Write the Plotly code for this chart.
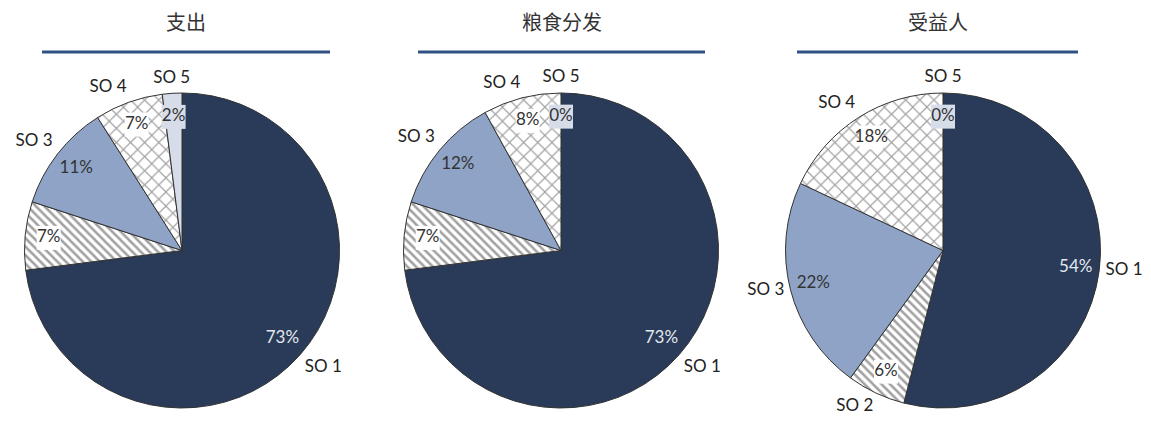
import numpy as np
import plotly.graph_objects as go

categories = ["SO 1", "SO 2", "SO 3", "SO 4", "SO 5"]
titles = ["支出", "粮食分发", "受益人"]
spend = [73, 7, 11, 7, 2]
food = [73, 7, 12, 8, 0]
beneficiaries = [54, 6, 22, 18, 0]
series = [spend, food, beneficiaries]
# category labels shown next to each pie (SO 2 not labelled on the first two)
shown_labels = [
    ["SO 1", "", "SO 3", "SO 4", "SO 5"],
    ["SO 1", "", "SO 3", "SO 4", "SO 5"],
    ["SO 1", "SO 2", "SO 3", "SO 4", "SO 5"],
]

colors = ["#293b58", "white", "#8ea3c6", "white", "#d6dde9"]
shapes_pat = ["", "\\", "", "x", ""]
pat_size = [8, 6, 8, 10, 8]
pat_solid = [0.3, 0.42, 0.3, 0.22, 0.3]
text_colors = ["#e4e8ee", "#333333", "#333333", "#333333", "#333333"]
box_colors = ["rgba(0,0,0,0)", "white", "rgba(0,0,0,0)", "white", "#d6dde9"]

W, H = 1151, 423
centers_px = [182, 561, 943]
cy_px = 250.5
r_px = 157.5
RMAX = 1.09
FONT = "Lato"


def label_position(angle):
    a = angle % 360
    if a < 8 or a > 352:
        return "top center"
    if 172 <= a <= 188:
        return "bottom center"
    if 75 <= a <= 105:
        return "middle right"
    if 255 <= a <= 285:
        return "middle left"
    vert = "bottom" if 90 < a < 270 else "top"
    horiz = "right" if a < 180 else "left"
    return f"{vert} {horiz}"


fig = go.Figure()
polar_layouts = {}
for i, vals in enumerate(series):
    cx = centers_px[i]
    R = r_px * RMAX
    dom_x = [(cx - R) / W, (cx + R) / W]
    dom_y = [1 - (cy_px + R) / H, 1 - (cy_px - R) / H]
    v = np.array(vals, dtype=float)
    share = v / v.sum() * 360.0
    ends = np.cumsum(share)
    mids = ends - share / 2.0
    pname = "polar" if i == 0 else f"polar{i + 1}"
    polar_layouts[pname] = dict(
        domain=dict(x=dom_x, y=dom_y),
        bgcolor="rgba(0,0,0,0)",
        bargap=0,
        radialaxis=dict(range=[0, RMAX], visible=False),
        angularaxis=dict(visible=False, rotation=90, direction="clockwise"),
    )
    # wedges
    fig.add_trace(go.Barpolar(
        r=[1] * len(vals), theta=mids, width=share, base=0,
        marker=dict(color=colors, line=dict(color="#333333", width=1),
                    pattern=dict(shape=shapes_pat, fgcolor="#1a1a1a", bgcolor="white",
                                 size=pat_size, solidity=pat_solid)),
        subplot=pname, showlegend=False, hovertext=categories, hoverinfo="text",
    ))
    # percentage labels
    fig.add_trace(go.Scatterpolar(
        r=[0.85] * len(vals), theta=mids, mode="markers+text",
        text=[f"{x}%" for x in vals], textposition="middle center",
        marker=dict(symbol="square", size=24, color=box_colors, line=dict(width=0)),
        textfont=dict(family=FONT, size=17, color=text_colors),
        subplot=pname, showlegend=False, hoverinfo="skip", cliponaxis=False,
    ))
    # category labels
    fig.add_trace(go.Scatterpolar(
        r=[1.04] * len(vals), theta=mids, mode="text",
        text=shown_labels[i], textposition=[label_position(a) for a in mids],
        textfont=dict(family=FONT, size=17, color="#222222"),
        subplot=pname, showlegend=False, hoverinfo="skip", cliponaxis=False,
    ))

underlines = [(42, 330), (418, 705), (797, 1078)]
for i, t in enumerate(titles):
    x0, x1 = underlines[i]
    fig.add_annotation(text=t, x=(x0 + x1) / 2 / W, y=1 - 22 / H, xref="paper", yref="paper",
                       showarrow=False, font=dict(family="Noto Sans CJK SC", size=20, color="#333333"),
                       xanchor="center", yanchor="middle")
    fig.add_shape(type="line", xref="paper", yref="paper", x0=x0 / W, x1=x1 / W,
                  y0=1 - 52 / H, y1=1 - 52 / H, line=dict(color="#2f5183", width=3))

fig.update_layout(width=W, height=H, margin=dict(l=0, r=0, t=0, b=0),
                  paper_bgcolor="white", plot_bgcolor="white", **polar_layouts)
fig.write_html("out.html", config={"displayModeBar": False},
               post_script="document.body.style.margin='0';")
